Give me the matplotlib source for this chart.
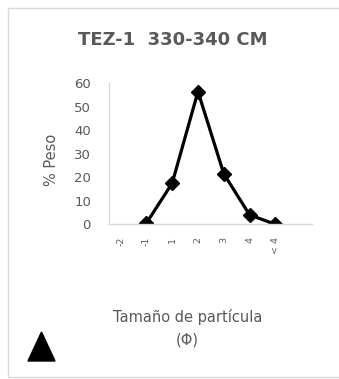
import matplotlib
matplotlib.use("Agg")
import matplotlib.pyplot as plt
from matplotlib.patches import Rectangle, Polygon

# Grain-size distribution, sample TEZ-1 330-340 cm
categories = ["-2", "-1", "1", "2", "3", "4", "< 4"]
peso = [None, 0.5, 17.5, 56.5, 21.5, 4.0, 0.0]
y_ticks = [0, 10, 20, 30, 40, 50, 60]

W, H = 339, 379
DPI = 100
fig = plt.figure(figsize=(W / DPI, H / DPI), dpi=DPI)
fig.patch.set_facecolor("white")

GRAY = "#595959"
LIGHT = "#d9d9d9"

def fx(px):
    return px / W

def fy(py):
    return 1 - py / H

# chart area outline (right edge runs past the canvas)
fig.patches.append(Rectangle((fx(8), fy(377)), fx(360) - fx(8), fy(8) - fy(377),
                             transform=fig.transFigure, fill=False,
                             edgecolor=LIGHT, linewidth=1.0))

ax = fig.add_axes([fx(109), fy(224.3), fx(312) - fx(109), fy(83.3) - fy(224.3)])
xs = [i for i, v in enumerate(peso) if v is not None]
ys = [v for v in peso if v is not None]
ax.plot(xs, ys, color="black", linewidth=2.3, marker="D", markersize=7.2,
        markerfacecolor="black", markeredgecolor="black", solid_joinstyle="miter")

ax.set_xlim(-0.45, 7.42)
ax.set_ylim(0, 60)
ax.set_yticks(y_ticks)
ax.set_xticks(range(len(categories)))
ax.set_xticklabels(categories, rotation=90, fontsize=6.8, color=GRAY)
ax.tick_params(axis="y", length=0, pad=13, labelsize=9.5, labelcolor=GRAY)
ax.tick_params(axis="x", length=0, pad=9)
for s in ["top", "right"]:
    ax.spines[s].set_visible(False)
ax.spines["left"].set_color(LIGHT)
ax.spines["bottom"].set_color(LIGHT)
ax.spines["left"].set_linewidth(1.0)
ax.spines["bottom"].set_linewidth(1.0)
ax.set_facecolor("none")

fig.text(fx(52), fy(160), "% Peso", rotation=90, ha="center", va="center",
         fontsize=10.5, color=GRAY)

fig.text(fx(173), fy(40), "TEZ-1  330-340 CM", ha="center", va="center",
         fontsize=13, fontweight="bold", color=GRAY)

fig.text(fx(188), fy(317), "Tamaño de partícula", ha="center", va="center",
         fontsize=10.5, color=GRAY)
fig.text(fx(187), fy(340), "(Φ)", ha="center", va="center",
         fontsize=10.5, color=GRAY)

# filled triangle symbol in the lower-left corner
fig.patches.append(Polygon([(fx(28), fy(361)), (fx(55), fy(361)), (fx(41.5), fy(332))],
                           closed=True, transform=fig.transFigure,
                           facecolor="black", edgecolor="black"))

fig.savefig("out.png", dpi=DPI)
